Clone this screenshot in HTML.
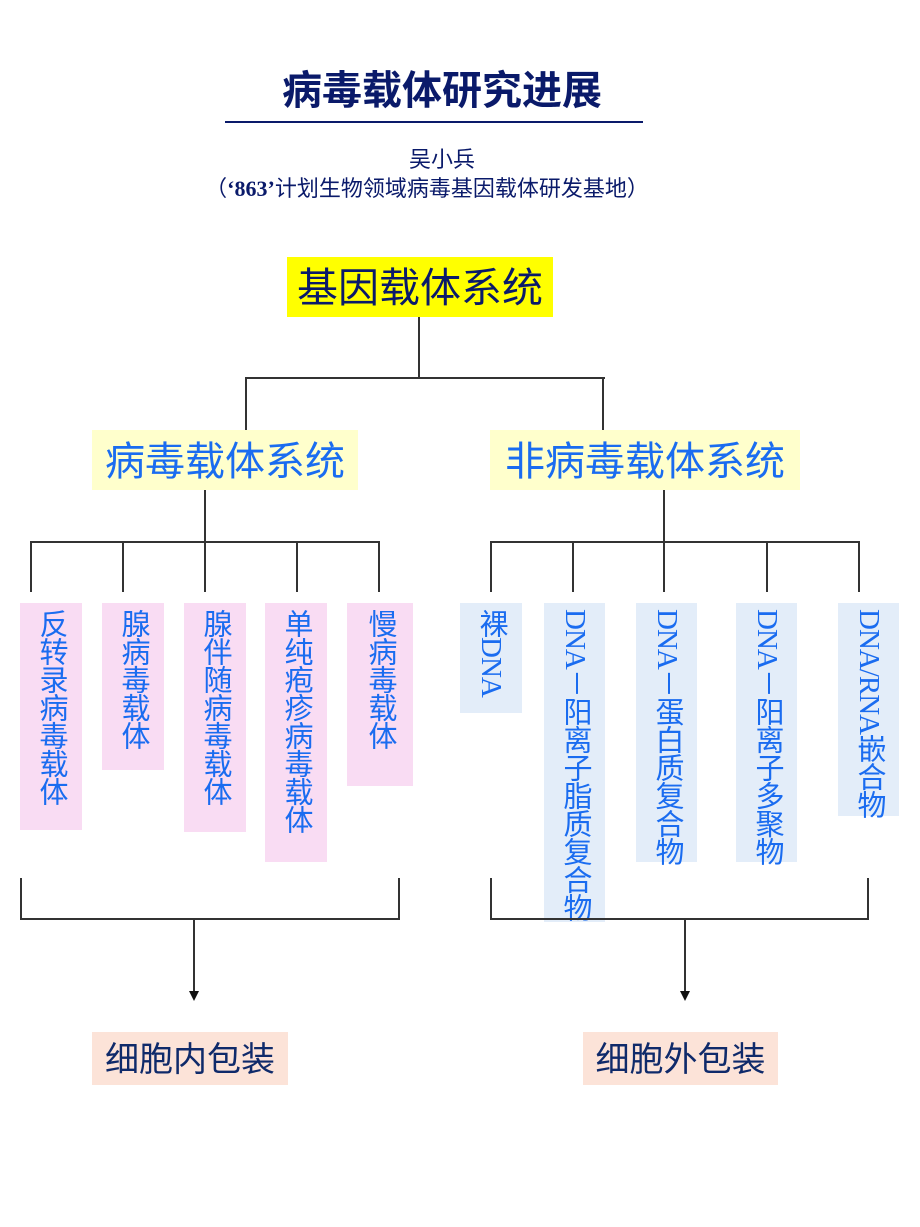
<!DOCTYPE html>
<html><head><meta charset="utf-8"><style>
body{margin:0;width:920px;height:1227px;background:#fff;position:relative;overflow:hidden;font-family:"Liberation Serif","Noto Serif CJK SC","Noto Sans CJK SC",serif}
.a{position:absolute}
.h{position:absolute;height:2px;background:#333}
.v{position:absolute;width:2px;background:#333}
.vt{position:absolute;writing-mode:vertical-rl;text-orientation:mixed;white-space:nowrap;color:#1a6cf0;font-family:"Liberation Serif","Noto Sans CJK SC",sans-serif;font-size:29px;letter-spacing:-1px;box-sizing:border-box;padding-top:6px;text-align:left;overflow:visible}
.pk{background:#f9dcf3}
.bl{background:#e3edf9}
.cn{font-family:"Liberation Sans","Noto Sans CJK SC",sans-serif}
</style></head><body>
<div class="a cn" style="left:0;width:884px;top:58px;text-align:center;font-size:40px;font-weight:bold;color:#0a1a6a">病毒载体研究进展</div>
<div class="h" style="left:225px;top:121px;width:418px;background:#0a1a6a"></div>
<div class="a cn" style="left:0;width:884px;top:142px;text-align:center;font-size:22px;color:#0a1a6a">吴小兵</div>
<div class="a cn" style="left:0;width:854px;top:171px;text-align:center;font-size:22px;color:#0a1a6a">（<b style="font-family:'Liberation Serif'">‘863’</b>计划生物领域病毒基因载体研发基地）</div>

<div class="a cn" style="left:287px;top:257px;width:266px;height:60px;background:#ffff00;color:#0a1a6a;font-size:41px;line-height:62px;text-align:center">基因载体系统</div>
<div class="v" style="left:418px;top:317px;height:61px"></div>
<div class="h" style="left:245px;top:377px;width:360px"></div>
<div class="v" style="left:245px;top:377px;height:53px"></div>
<div class="v" style="left:602px;top:377px;height:53px"></div>

<div class="a cn" style="left:92px;top:430px;width:266px;height:60px;background:#ffffcc;color:#1a6cf0;font-size:40px;line-height:64px;text-align:center">病毒载体系统</div>
<div class="a cn" style="left:490px;top:430px;width:310px;height:60px;background:#ffffcc;color:#1a6cf0;font-size:40px;line-height:64px;text-align:center">非病毒载体系统</div>

<div class="v" style="left:204px;top:490px;height:52px"></div>
<div class="h" style="left:30px;top:541px;width:350px"></div>
<div class="v" style="left:30px;top:541px;height:51px"></div>
<div class="v" style="left:122px;top:541px;height:51px"></div>
<div class="v" style="left:204px;top:541px;height:51px"></div>
<div class="v" style="left:296px;top:541px;height:51px"></div>
<div class="v" style="left:378px;top:541px;height:51px"></div>

<div class="v" style="left:663px;top:490px;height:52px"></div>
<div class="h" style="left:490px;top:541px;width:370px"></div>
<div class="v" style="left:490px;top:541px;height:51px"></div>
<div class="v" style="left:572px;top:541px;height:51px"></div>
<div class="v" style="left:663px;top:541px;height:51px"></div>
<div class="v" style="left:766px;top:541px;height:51px"></div>
<div class="v" style="left:858px;top:541px;height:51px"></div>

<div class="vt pk" style="left:20px;top:603px;width:62px;height:227px;line-height:62px">反转录病毒载体</div>
<div class="vt pk" style="left:102px;top:603px;width:62px;height:167px;line-height:62px">腺病毒载体</div>
<div class="vt pk" style="left:184px;top:603px;width:62px;height:229px;line-height:62px">腺伴随病毒载体</div>
<div class="vt pk" style="left:265px;top:603px;width:62px;height:259px;line-height:62px">单纯疱疹病毒载体</div>
<div class="vt pk" style="left:347px;top:603px;width:66px;height:183px;line-height:66px">慢病毒载体</div>

<div class="vt bl" style="left:460px;top:603px;width:62px;height:110px;line-height:62px">裸DNA</div>
<div class="vt bl" style="left:544px;top:603px;width:61px;height:319px;line-height:61px">DNA－阳离子脂质复合物</div>
<div class="vt bl" style="left:636px;top:603px;width:61px;height:259px;line-height:61px">DNA－蛋白质复合物</div>
<div class="vt bl" style="left:736px;top:603px;width:61px;height:259px;line-height:61px">DNA－阳离子多聚物</div>
<div class="vt bl" style="left:838px;top:603px;width:61px;height:213px;line-height:61px">DNA/RNA嵌合物</div>

<div class="v" style="left:20px;top:878px;height:42px"></div>
<div class="v" style="left:398px;top:878px;height:42px"></div>
<div class="h" style="left:20px;top:918px;width:380px"></div>
<div class="v" style="left:193px;top:918px;height:74px"></div>
<div class="a" style="left:189px;top:991px;width:0;height:0;border-left:5px solid transparent;border-right:5px solid transparent;border-top:10px solid #111"></div>

<div class="v" style="left:490px;top:878px;height:42px"></div>
<div class="v" style="left:867px;top:878px;height:42px"></div>
<div class="h" style="left:490px;top:918px;width:379px"></div>
<div class="v" style="left:684px;top:918px;height:74px"></div>
<div class="a" style="left:680px;top:991px;width:0;height:0;border-left:5px solid transparent;border-right:5px solid transparent;border-top:10px solid #111"></div>

<div class="a cn" style="left:92px;top:1032px;width:196px;height:53px;background:#fce3d8;color:#0f2a6a;font-size:34px;line-height:56px;text-align:center">细胞内包装</div>
<div class="a cn" style="left:583px;top:1032px;width:195px;height:53px;background:#fce3d8;color:#0f2a6a;font-size:34px;line-height:56px;text-align:center">细胞外包装</div>
</body></html>
